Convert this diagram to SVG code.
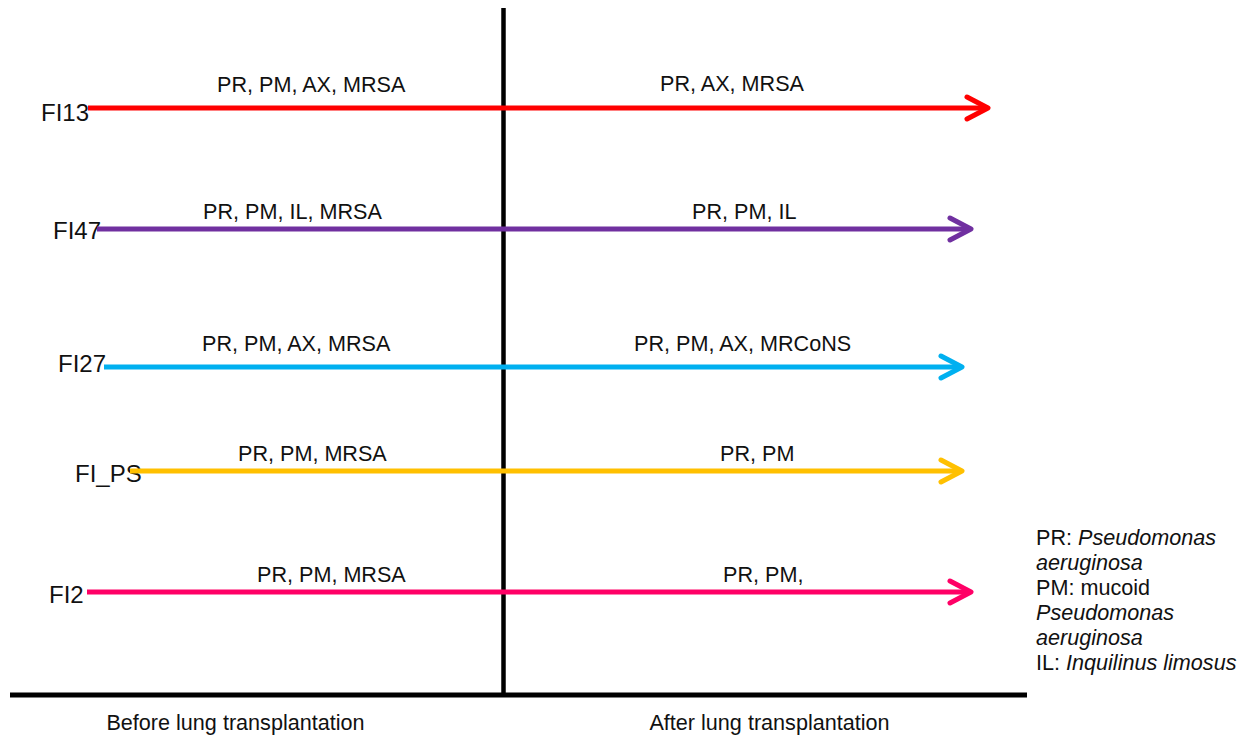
<svg xmlns="http://www.w3.org/2000/svg" width="1243" height="740" viewBox="0 0 1243 740">
<style>
text{font-family:"Liberation Sans",Arial,sans-serif;fill:#111}
.lbl{font-size:21.6px}
.iso{font-size:24px}
.ax{stroke:#000;fill:none}
.ln{stroke-width:5;fill:none}
.it{font-style:italic}
</style>
<defs>
<marker id="mRed" markerUnits="userSpaceOnUse" viewBox="-4 -4 30 30" markerWidth="30" markerHeight="30" refX="18" refY="11" orient="auto"><path d="M0,0 L21,11 L0,22" fill="none" stroke="#FF0000" stroke-width="5" stroke-linecap="round" stroke-linejoin="round"/></marker>
<marker id="mPur" markerUnits="userSpaceOnUse" viewBox="-4 -4 30 30" markerWidth="30" markerHeight="30" refX="18" refY="11" orient="auto"><path d="M0,0 L21,11 L0,22" fill="none" stroke="#7030A0" stroke-width="5" stroke-linecap="round" stroke-linejoin="round"/></marker>
<marker id="mCya" markerUnits="userSpaceOnUse" viewBox="-4 -4 30 30" markerWidth="30" markerHeight="30" refX="18" refY="11" orient="auto"><path d="M0,0 L21,11 L0,22" fill="none" stroke="#00B0F0" stroke-width="5" stroke-linecap="round" stroke-linejoin="round"/></marker>
<marker id="mYel" markerUnits="userSpaceOnUse" viewBox="-4 -4 30 30" markerWidth="30" markerHeight="30" refX="18" refY="11" orient="auto"><path d="M0,0 L21,11 L0,22" fill="none" stroke="#FFC000" stroke-width="5" stroke-linecap="round" stroke-linejoin="round"/></marker>
<marker id="mPnk" markerUnits="userSpaceOnUse" viewBox="-4 -4 30 30" markerWidth="30" markerHeight="30" refX="18" refY="11" orient="auto"><path d="M0,0 L21,11 L0,22" fill="none" stroke="#FF0066" stroke-width="5" stroke-linecap="round" stroke-linejoin="round"/></marker>
</defs>
<rect width="1243" height="740" fill="#fff"/>
<g id="axes">
<line class="ax" x1="503.5" y1="8" x2="503.5" y2="695" stroke-width="4.5"/>
<line class="ax" x1="10" y1="695" x2="1027" y2="695" stroke-width="5"/>
</g>
<g id="node-FI13"><text class="iso" x="41" y="121">FI13</text></g>
<g id="node-FI47"><text class="iso" x="53" y="239">FI47</text></g>
<g id="node-FI27"><text class="iso" x="58" y="372">FI27</text></g>
<g id="node-FI_PS"><text class="iso" x="75" y="482">FI_PS</text></g>
<g id="node-FI2"><text class="iso" x="49" y="603">FI2</text></g>
<g id="connectors">
<line class="ln" x1="88" y1="108" x2="985" y2="108" stroke="#FF0000" marker-end="url(#mRed)"/>
<line class="ln" x1="97" y1="229" x2="968" y2="229" stroke="#7030A0" marker-end="url(#mPur)"/>
<line class="ln" x1="104" y1="367" x2="959" y2="367" stroke="#00B0F0" marker-end="url(#mCya)"/>
<line class="ln" x1="130" y1="471" x2="959" y2="471" stroke="#FFC000" marker-end="url(#mYel)"/>
<line class="ln" x1="87" y1="592" x2="968" y2="592" stroke="#FF0066" marker-end="url(#mPnk)"/>
</g>
<g id="labels">
<text class="lbl" x="217" y="92">PR, PM, AX, MRSA</text>
<text class="lbl" x="660" y="91">PR, AX, MRSA</text>
<text class="lbl" x="203" y="219">PR, PM, IL, MRSA</text>
<text class="lbl" x="692" y="219">PR, PM, IL</text>
<text class="lbl" x="202" y="351">PR, PM, AX, MRSA</text>
<text class="lbl" x="634" y="351">PR, PM, AX, MRCoNS</text>
<text class="lbl" x="238" y="461">PR, PM, MRSA</text>
<text class="lbl" x="720" y="461">PR, PM</text>
<text class="lbl" x="257" y="582">PR, PM, MRSA</text>
<text class="lbl" x="723" y="582">PR, PM,</text>
</g>
<g id="legend">
<text class="lbl" x="1036" y="545">PR: <tspan class="it">Pseudomonas</tspan></text>
<text class="lbl it" x="1036" y="570">aeruginosa</text>
<text class="lbl" x="1036" y="595">PM: mucoid</text>
<text class="lbl it" x="1036" y="620">Pseudomonas</text>
<text class="lbl it" x="1036" y="645">aeruginosa</text>
<text class="lbl" x="1036" y="670">IL: <tspan class="it">Inquilinus limosus</tspan></text>
</g>
<g id="phases">
<text class="lbl" x="235.5" y="730" text-anchor="middle">Before lung transplantation</text>
<text class="lbl" x="769.5" y="730" text-anchor="middle">After lung transplantation</text>
</g>
</svg>
